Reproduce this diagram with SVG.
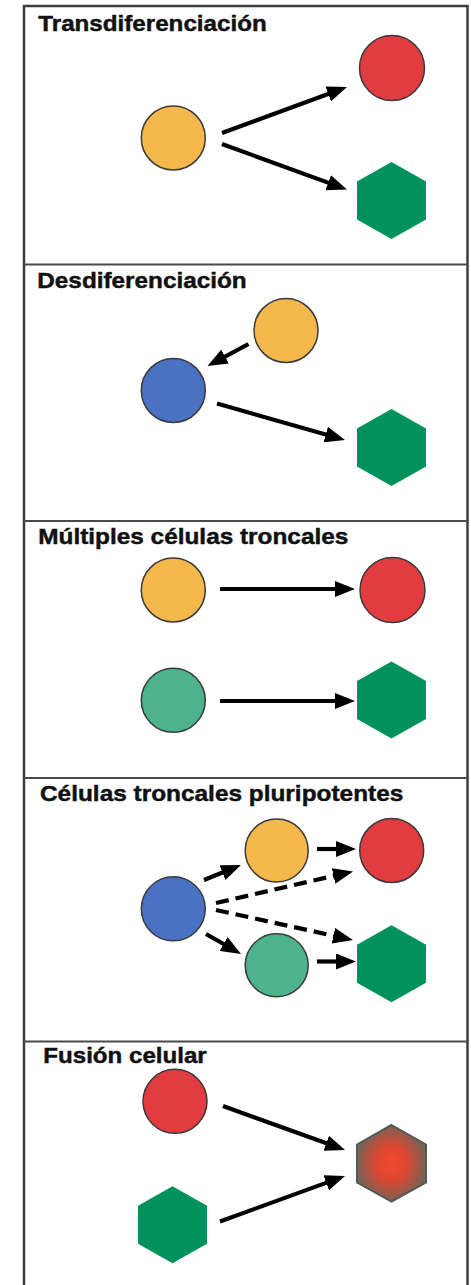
<svg xmlns="http://www.w3.org/2000/svg" width="471" height="1285" viewBox="0 0 471 1285">
  <style>
    .title { font-family: "Liberation Sans", Arial, sans-serif; font-weight: bold; font-size: 22px; fill: #111; stroke: #111; stroke-width: 0.45; }
    .frame { fill: none; stroke: #3c3c3c; stroke-width: 2.5; }
    .sep { stroke: #4a4a4a; stroke-width: 2; }
    .cell { stroke: #3a3a3a; stroke-width: 1.5; }
    .yellow { fill: #f5b84c; }
    .red { fill: #e23b40; }
    .green { fill: #00925c; }
    .blue { fill: #4a72c2; }
    .teal { fill: #4db38c; }
    .fused { fill: url(#fusedFill); stroke: #4e5a55; stroke-width: 2; }
    .arrow { stroke: #000; stroke-width: 4.2; fill: none; marker-end: url(#head); }
    .dashed { stroke-dasharray: 13 7; }
  </style>
  <defs>
    <marker id="head" markerUnits="userSpaceOnUse" markerWidth="20" markerHeight="16" refX="10" refY="8" orient="auto">
      <path d="M0,0 L20,8 L0,16 Z" fill="#000"/>
    </marker>
    <polygon id="hex" points="0,-38.5 34.5,-19 34.5,19 0,38.5 -34.5,19 -34.5,-19"/>
    <radialGradient id="fusedFill" cx="0.5" cy="0.5" r="0.55">
      <stop offset="0" stop-color="#f44a2e"/>
      <stop offset="0.4" stop-color="#dd4630"/>
      <stop offset="1" stop-color="#6a665c"/>
    </radialGradient>
  </defs>

  <rect fill="#fff" x="0" y="0" width="471" height="1285"/>

  <!-- outer frame and panel separators -->
  <g id="frame">
    <rect class="frame" x="24" y="6" width="443.5" height="1300"/>
    <line class="sep" x1="24" y1="264.5" x2="467.5" y2="264.5"/>
    <line class="sep" x1="24" y1="521" x2="467.5" y2="521"/>
    <line class="sep" x1="24" y1="778" x2="467.5" y2="778"/>
    <line class="sep" x1="24" y1="1041.5" x2="467.5" y2="1041.5"/>
  </g>

  <!-- panel titles -->
  <g id="titles">
    <text class="title" x="38.3" y="30.5" textLength="228.4" lengthAdjust="spacingAndGlyphs">Transdiferenciación</text>
    <text class="title" x="37.3" y="288.3" textLength="209.4" lengthAdjust="spacingAndGlyphs">Desdiferenciación</text>
    <text class="title" x="38.3" y="544.3" textLength="310" lengthAdjust="spacingAndGlyphs">Múltiples células troncales</text>
    <text class="title" x="40" y="801" textLength="363.3" lengthAdjust="spacingAndGlyphs">Células troncales pluripotentes</text>
    <text class="title" x="43.3" y="1063.3" textLength="163.4" lengthAdjust="spacingAndGlyphs">Fusión celular</text>
  </g>

  <!-- connectors (each line stops 10px short of its arrow tip) -->
  <g id="connectors">
    <!-- transdifferentiation -->
    <line class="arrow" x1="222" y1="133" x2="337.6" y2="90.5"/>
    <line class="arrow" x1="222" y1="144" x2="337.6" y2="186.1"/>
    <!-- dedifferentiation -->
    <line class="arrow" x1="248.5" y1="344" x2="216.3" y2="361.3"/>
    <line class="arrow" x1="217" y1="403.5" x2="335.4" y2="437.3"/>
    <!-- multiple stem cells -->
    <line class="arrow" x1="220" y1="589" x2="345" y2="589"/>
    <line class="arrow" x1="220" y1="701" x2="345" y2="701"/>
    <!-- pluripotent stem cells -->
    <line class="arrow" x1="204" y1="880" x2="231.7" y2="868.8"/>
    <line class="arrow" x1="317" y1="849" x2="346" y2="849"/>
    <line class="arrow dashed" x1="216" y1="903" x2="343.3" y2="873.7"/>
    <line class="arrow dashed" x1="216" y1="910" x2="343.2" y2="937.9"/>
    <line class="arrow" x1="206" y1="934" x2="232.3" y2="949"/>
    <line class="arrow" x1="317" y1="961.5" x2="346" y2="961.5"/>
    <!-- cell fusion -->
    <line class="arrow" x1="223" y1="1106" x2="335.6" y2="1146.6"/>
    <line class="arrow" x1="220" y1="1221.5" x2="335.6" y2="1179.4"/>
  </g>

  <!-- panel 1: transdifferentiation -->
  <g id="p1-source"><circle class="cell yellow" cx="173.3" cy="138" r="32"/></g>
  <g id="p1-red"><circle class="cell red" cx="392" cy="68" r="32.5"/></g>
  <g id="p1-hex"><use href="#hex" class="green" x="391.5" y="200.5"/></g>

  <!-- panel 2: dedifferentiation -->
  <g id="p2-yellow"><circle class="cell yellow" cx="286" cy="330.5" r="32"/></g>
  <g id="p2-blue"><circle class="cell blue" cx="173.3" cy="390.5" r="32"/></g>
  <g id="p2-hex"><use href="#hex" class="green" x="391.5" y="447.5"/></g>

  <!-- panel 3: multiple stem cells -->
  <g id="p3-yellow"><circle class="cell yellow" cx="173.3" cy="590" r="32"/></g>
  <g id="p3-red"><circle class="cell red" cx="392.5" cy="590" r="32.5"/></g>
  <g id="p3-teal"><circle class="cell teal" cx="173.3" cy="700.3" r="32"/></g>
  <g id="p3-hex"><use href="#hex" class="green" x="391.5" y="700"/></g>

  <!-- panel 4: pluripotent stem cells -->
  <g id="p4-blue"><circle class="cell blue" cx="173.3" cy="908.8" r="32"/></g>
  <g id="p4-yellow"><circle class="cell yellow" cx="276.7" cy="850.5" r="31.5"/></g>
  <g id="p4-red"><circle class="cell red" cx="391.7" cy="850.5" r="32"/></g>
  <g id="p4-teal"><circle class="cell teal" cx="276.7" cy="965.3" r="31.5"/></g>
  <g id="p4-hex"><use href="#hex" class="green" x="391.5" y="963.8"/></g>

  <!-- panel 5: cell fusion -->
  <g id="p5-red"><circle class="cell red" cx="175" cy="1101.3" r="32"/></g>
  <g id="p5-hex"><use href="#hex" class="green" x="172.5" y="1224.7"/></g>
  <g id="p5-fused"><polygon class="fused" points="391.5,1125 426,1144.5 426,1182.5 391.5,1201.7 357,1182.5 357,1144.5"/></g>
</svg>
